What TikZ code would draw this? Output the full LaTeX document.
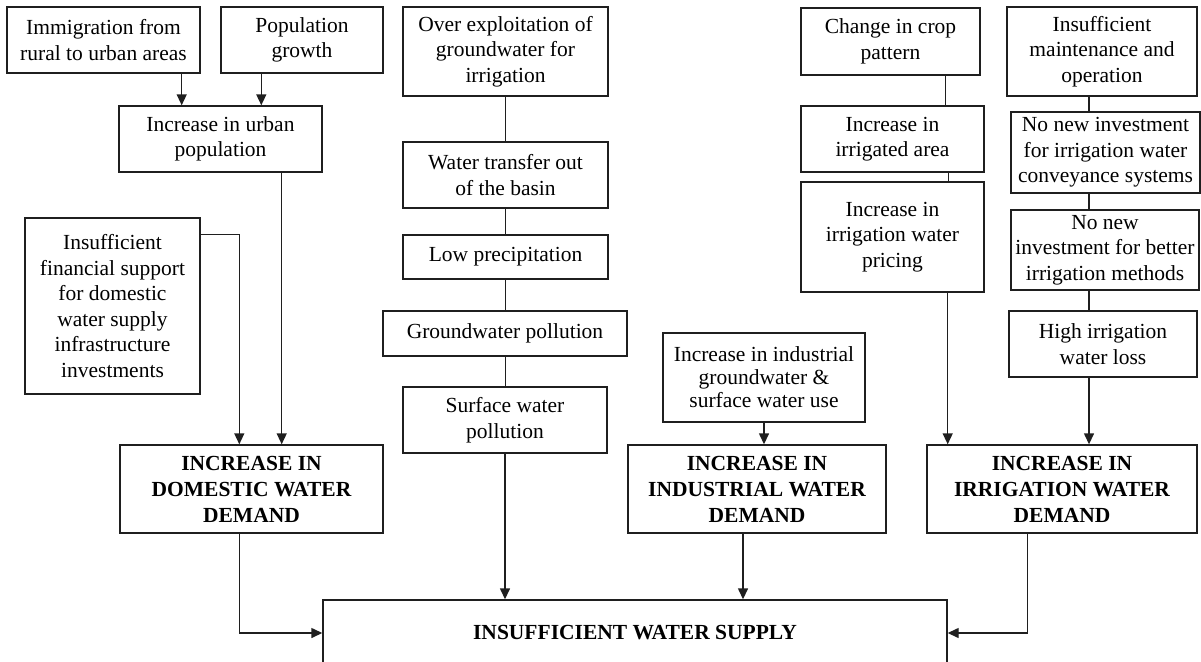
\documentclass[tikz,border=0pt]{standalone}
\usepackage{fontspec}
\setmainfont{Liberation Serif}
\usetikzlibrary{arrows.meta}
\begin{document}
\begin{tikzpicture}[x=1pt,y=-1pt,
  box/.style={draw=black!88, line width=1.4pt, align=center, inner sep=0pt, font=\fontsize{21.5}{25.5}\selectfont},
  bbox/.style={box, font=\fontsize{21.5}{26}\selectfont\bfseries},
  link/.style={line width=1.4pt, draw=black!88},
  arr/.style={link, -{Triangle[length=11pt,width=10pt]}}]
\useasboundingbox (0,0) rectangle (1201,661);
\clip (0,0) rectangle (1201,661);
% left column
\node[box, minimum width=193pt, minimum height=66pt] (imm) at (103.5,40) {Immigration from\\rural to urban areas};
\node[box, minimum width=162pt, minimum height=66pt] (pop) at (302,40) {Population\\growth};
\node[box, minimum width=203pt, minimum height=66pt] (urban) at (220.5,139) {Increase in urban\\population};
\node[box, minimum width=175pt, minimum height=176pt] (fin) at (112.5,306) {Insufficient\\financial support\\for domestic\\water supply\\infrastructure\\investments};
\node[bbox, minimum width=263pt, minimum height=88pt] (dom) at (251.5,489) {INCREASE IN\\DOMESTIC WATER\\DEMAND};
% middle column
\node[box, minimum width=205pt, minimum height=89pt] (over) at (505.5,51.5) {Over exploitation of\\groundwater for\\irrigation};
\node[box, minimum width=205pt, minimum height=66pt] (transfer) at (505.5,175) {Water transfer out\\of the basin};
\node[box, minimum width=205pt, minimum height=44pt] (lowp) at (505.5,257) {Low precipitation};
\node[box, minimum width=244pt, minimum height=45pt] (gwp) at (505,333.5) {Groundwater pollution};
\node[box, minimum width=204pt, minimum height=66pt] (swp) at (505,420) {Surface water\\pollution};
\node[box, minimum width=202pt, minimum height=89pt, font=\fontsize{21.5}{23}\selectfont] (indin) at (764,377.5) {Increase in industrial\\groundwater \&\\surface water use};
\node[bbox, minimum width=258pt, minimum height=88pt] (ind) at (757,489) {INCREASE IN\\INDUSTRIAL WATER\\DEMAND};
% right columns
\node[box, minimum width=179pt, minimum height=67pt] (crop) at (890.5,41.5) {Change in crop\\pattern};
\node[box, minimum width=183pt, minimum height=66pt] (irrarea) at (892.5,139) {Increase in\\irrigated area};
\node[box, minimum width=183pt, minimum height=110pt] (pricing) at (892.5,237) {Increase in\\irrigation water\\pricing};
\node[box, minimum width=190pt, minimum height=89pt] (maint) at (1102,51.5) {Insufficient\\maintenance and\\operation};
\node[box, minimum width=189pt, minimum height=81pt] (conv) at (1105.5,152.5) {No new investment\\for irrigation water\\conveyance systems};
\node[box, minimum width=188pt, minimum height=80pt] (better) at (1105,250) {No new\\investment for better\\irrigation methods};
\node[box, minimum width=188pt, minimum height=66pt] (loss) at (1103,344) {High irrigation\\water loss};
\node[bbox, minimum width=270pt, minimum height=88pt] (irrdem) at (1062,489) {INCREASE IN\\IRRIGATION WATER\\DEMAND};
% bottom
\node[bbox, minimum width=624pt, minimum height=66pt] (main) at (635,633) {INSUFFICIENT WATER SUPPLY};
% connectors left
\coordinate (a1) at ([xshift=-19pt]imm.south east);
\draw[arr] (a1) -- (a1 |- urban.north);
\coordinate (a2) at ([xshift=41pt]pop.south west);
\draw[arr] (a2) -- (a2 |- urban.north);
\coordinate (a3) at ([xshift=-41pt]urban.south east);
\draw[arr] (a3) -- (a3 |- dom.north);
\coordinate (a4) at ([yshift=-17pt]fin.north east);
\coordinate (a5) at ([xshift=120pt]dom.north west);
\draw[arr] (a4) -| (a5);
\coordinate (a6) at ([xshift=120pt]dom.south west);
\draw[arr] (a6) |- (main.west);
% connectors middle
\draw[link] (over.south) -- (transfer.north);
\draw[link] (transfer.south) -- (lowp.north);
\draw[link] (lowp.south) -- (lowp.south |- gwp.north);
\draw[link] (lowp.south |- gwp.south) -- (lowp.south |- swp.north);
\draw[arr] (swp.south) -- (swp.south |- main.north);
\draw[arr] (indin.south) -- (indin.south |- ind.north);
\coordinate (a7) at ([xshift=-14pt]ind.south);
\draw[arr] (a7) -- (a7 |- main.north);
% connectors right
\coordinate (b1) at ([xshift=-35pt]crop.south east);
\draw[link] (b1) -- (b1 |- irrarea.north);
\coordinate (b2) at ([xshift=-36pt]irrarea.south east);
\draw[link] (b2) -- (b2 |- pricing.north);
\coordinate (b3) at ([xshift=-37pt]pricing.south east);
\draw[arr] (b3) -- (b3 |- irrdem.north);
\coordinate (c1) at ([xshift=-13pt]maint.south);
\draw[link] (c1) -- (c1 |- conv.north);
\coordinate (c2) at (c1 |- conv.south);
\draw[link] (c2) -- (c2 |- better.north);
\coordinate (c3) at (c1 |- better.south);
\draw[link] (c3) -- (c3 |- loss.north);
\coordinate (c4) at (c1 |- loss.south);
\draw[arr] (c4) -- (c4 |- irrdem.north);
\coordinate (c5) at ([xshift=101pt]irrdem.south west);
\draw[arr] (c5) |- (main.east);
\end{tikzpicture}
\end{document}
